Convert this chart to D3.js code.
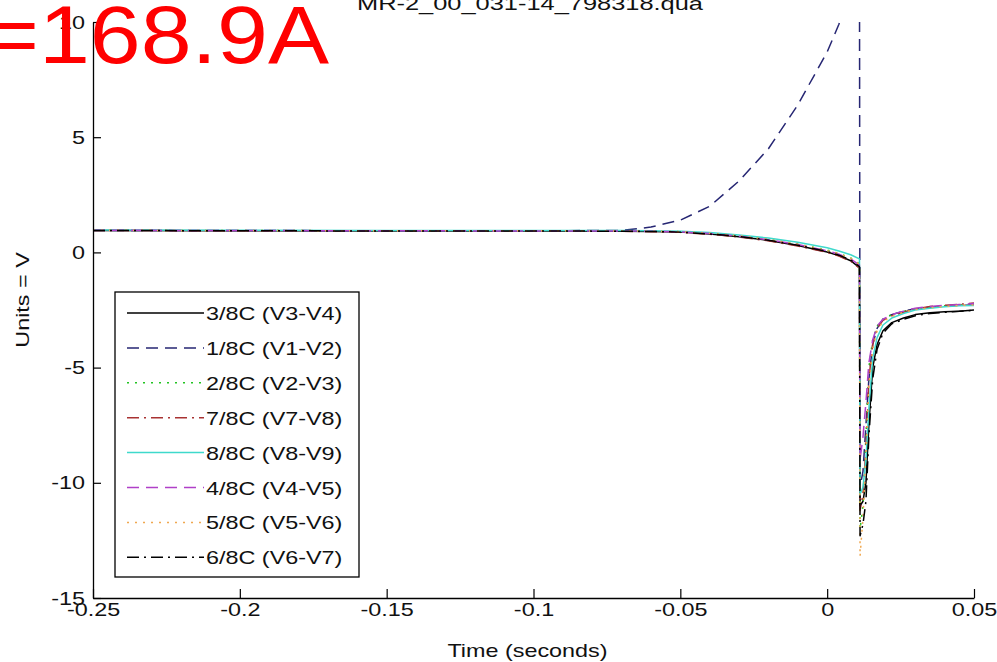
<!DOCTYPE html>
<html><head><meta charset="utf-8">
<script src="https://cdn.jsdelivr.net/npm/d3@7"></script>
<style>body{margin:0;background:#fff}</style></head>
<body><svg id="c" width="997" height="662"></svg>
<script>
// ---------- DATA ----------
const time = [-0.25,-0.2,-0.15,-0.1,-0.07,-0.06,-0.05,-0.04,-0.03,-0.02,-0.01,0,0.004,0.008,0.011,
  0.0112,0.0122,0.0132,0.0142,0.0155,0.017,0.019,0.022,0.026,0.03,0.035,0.04,0.045,0.05];
const v38 = [0.95,0.94,0.93,0.93,0.92,0.91,0.88,0.80,0.68,0.52,0.30,0.02,-0.14,-0.36,-0.66,
  -11.0,-10.8,-10.0,-7.5,-5.0,-4.0,-3.4,-3.05,-2.85,-2.7,-2.62,-2.58,-2.55,-2.5];
const v18 = [0.95,0.95,0.94,0.94,0.95,1.1,1.4,2.0,3.1,4.5,6.4,8.7,9.9,11.5,13.0,
  -10.2,-9.5,-7.5,-5.5,-4.0,-3.3,-2.9,-2.7,-2.55,-2.45,-2.38,-2.33,-2.3,-2.28];
const v28 = [0.96,0.95,0.94,0.94,0.93,0.92,0.90,0.83,0.72,0.57,0.36,0.10,-0.05,-0.24,-0.50,
  -12.0,-11.0,-8.0,-5.0,-3.8,-3.2,-2.9,-2.7,-2.55,-2.45,-2.38,-2.32,-2.28,-2.25];
const v78 = [0.95,0.94,0.93,0.93,0.92,0.90,0.87,0.79,0.67,0.50,0.28,0.0,-0.16,-0.38,-0.68,
  -11.2,-10.5,-8.5,-5.5,-4.0,-3.3,-2.95,-2.75,-2.6,-2.45,-2.35,-2.3,-2.25,-2.2];
const v88 = [0.97,0.96,0.95,0.95,0.95,0.94,0.92,0.86,0.76,0.62,0.44,0.20,0.06,-0.10,-0.28,
  -10.5,-10.2,-9.0,-6.8,-4.6,-3.7,-3.15,-2.85,-2.65,-2.5,-2.42,-2.36,-2.32,-2.3];
const v48 = [0.96,0.95,0.94,0.93,0.93,0.92,0.89,0.82,0.70,0.55,0.34,0.07,-0.08,-0.28,-0.55,
  -9.0,-8.0,-6.5,-4.8,-3.8,-3.2,-2.9,-2.7,-2.55,-2.42,-2.35,-2.3,-2.26,-2.22];
const v58 = [0.96,0.95,0.94,0.94,0.93,0.92,0.90,0.83,0.72,0.56,0.35,0.08,-0.06,-0.26,-0.52,
  -13.2,-11.5,-8.8,-5.8,-4.2,-3.4,-3.0,-2.78,-2.6,-2.48,-2.4,-2.35,-2.3,-2.28];
const v68 = [0.95,0.94,0.93,0.93,0.92,0.91,0.88,0.80,0.69,0.53,0.31,0.04,-0.12,-0.33,-0.62,
  -12.3,-11.8,-10.8,-8.0,-5.5,-4.2,-3.5,-3.1,-2.9,-2.75,-2.65,-2.6,-2.55,-2.52];

const seriesLabels = ["3/8C (V3-V4)","1/8C (V1-V2)","2/8C (V2-V3)","7/8C (V7-V8)",
  "8/8C (V8-V9)","4/8C (V4-V5)","5/8C (V5-V6)","6/8C (V6-V7)"];
const seriesValues = [v38, v18, v28, v78, v88, v48, v58, v68];

const xTicks = [-0.25,-0.2,-0.15,-0.1,-0.05,0,0.05];
const xTickLabels = ["-0.25","-0.2","-0.15","-0.1","-0.05","0","0.05"];
const yTicks = [-15,-10,-5,0,5,10];
const yTickLabels = ["-15","-10","-5","0","5","10"];

const titleText = "MR-2_00_031-14_798318.qua";
const xLabel = "Time (seconds)";
const yLabel = "Units = V";
const overlayText = "=168.9A";

// ---------- STYLES ----------
const seriesStyles = [
  {color:"#000000", dash:null},
  {color:"#262673", dash:"12,7"},
  {color:"#22c422", dash:"2,6"},
  {color:"#a83232", dash:"12,5,2,5"},
  {color:"#3fd9cc", dash:null},
  {color:"#b040c8", dash:"12,7"},
  {color:"#f0a850", dash:"2,6"},
  {color:"#000000", dash:"12,5,2,5"}
];
const FONT = "'Liberation Sans', Arial, sans-serif";
const STRETCH = 1.23;

// ---------- CHART ----------
const svg = d3.select("#c");
const L = 93, R = 974, T = 22, B = 598;
const x = d3.scaleLinear().domain([-0.25, 0.05]).range([L, R]);
const y = d3.scaleLinear().domain([-15, 10]).range([B, T]);

function stretch(sel, f){
  sel.each(function(){
    const len = this.getComputedTextLength();
    d3.select(this).attr("textLength", len*(f||STRETCH)).attr("lengthAdjust","spacingAndGlyphs");
  });
}

svg.append("defs").append("clipPath").attr("id","clip")
  .append("rect").attr("x",L).attr("y",T).attr("width",R-L).attr("height",B-T);

const line = d3.line().x(d=>x(d[0])).y(d=>y(d[1]));
const plot = svg.append("g").attr("clip-path","url(#clip)");
seriesValues.forEach((vals,i)=>{
  const pts = time.map((t,j)=>[t, vals[j]]);
  plot.append("path").datum(pts).attr("d", line)
    .attr("fill","none").attr("stroke", seriesStyles[i].color)
    .attr("stroke-width",1.5)
    .attr("stroke-dasharray", seriesStyles[i].dash)
    .attr("stroke-linejoin","round");
});

// axes
const gx = svg.append("g").attr("transform",`translate(0,${B})`)
  .call(d3.axisBottom(x).tickValues(xTicks).tickFormat((d,i)=>xTickLabels[i])
    .tickSizeInner(-9).tickSizeOuter(0).tickPadding(5));
const gy = svg.append("g").attr("transform",`translate(${L},0)`)
  .call(d3.axisLeft(y).tickValues(yTicks).tickFormat((d,i)=>yTickLabels[i])
    .tickSizeInner(-8).tickSizeOuter(0).tickPadding(8));
[gx,gy].forEach(g=>{
  g.select(".domain").attr("stroke","#000").attr("stroke-width",1.3);
  g.selectAll(".tick line").attr("stroke","#000").attr("stroke-width",1.2);
  g.selectAll(".tick text").attr("font-family",FONT).attr("font-size",19).attr("fill","#111");
});
gx.selectAll(".tick text").call(stretch);
gy.selectAll(".tick text").call(stretch);

// labels
svg.append("text").attr("x",(L+R)/2 - 6).attr("y",657).attr("text-anchor","middle")
  .attr("font-family",FONT).attr("font-size",19).attr("fill","#111").text(xLabel).call(stretch);
svg.append("text").attr("transform","translate(29,300) rotate(-90)").attr("text-anchor","middle")
  .attr("font-family",FONT).attr("font-size",19).attr("fill","#111").text(yLabel).call(stretch);
svg.append("text").attr("x",530).attr("y",10).attr("text-anchor","middle")
  .attr("font-family",FONT).attr("font-size",19).attr("fill","#111").text(titleText)
  .attr("textLength",346).attr("lengthAdjust","spacingAndGlyphs");

// legend
const lg = svg.append("g");
lg.append("rect").attr("x",115).attr("y",292).attr("width",244).attr("height",285)
  .attr("fill","#fff").attr("stroke","#000").attr("stroke-width",1.3);
seriesLabels.forEach((lab,i)=>{
  const yy = 313 + i*34.9;
  lg.append("line").attr("x1",127).attr("x2",204).attr("y1",yy).attr("y2",yy)
    .attr("stroke",seriesStyles[i].color).attr("stroke-width",1.5)
    .attr("stroke-dasharray",seriesStyles[i].dash);
  lg.append("text").attr("x",206).attr("y",yy+7).attr("font-family",FONT)
    .attr("font-size",19).attr("fill","#111").text(lab).call(stretch);
});

// overlay red annotation
svg.append("text").attr("x",329).attr("y",63).attr("text-anchor","end")
  .attr("font-family",FONT).attr("font-size",81).attr("fill","#ff0000").text(overlayText)
  .call(stretch, 1.13);
</script>
</body></html>
